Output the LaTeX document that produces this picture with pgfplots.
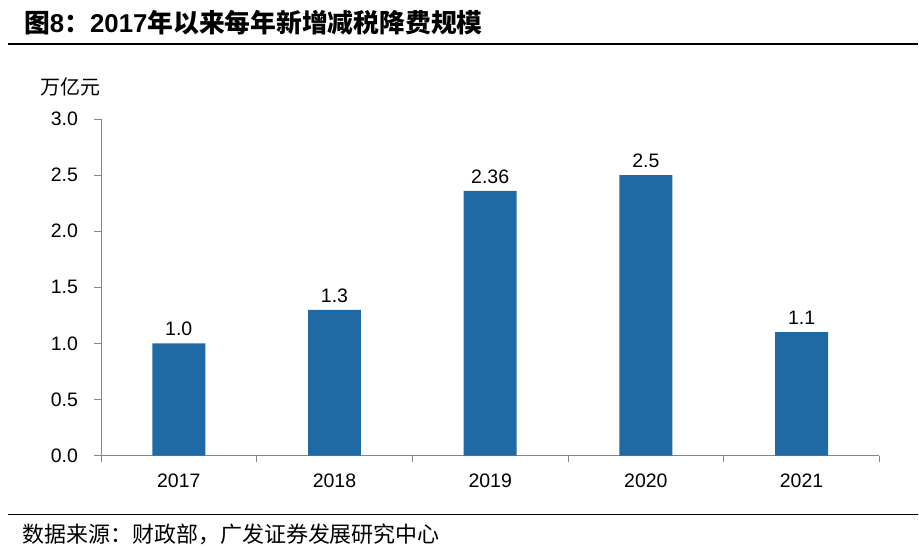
\documentclass[border=0pt]{standalone}
\usepackage{fontspec}
\setmainfont{Liberation Sans}
\newfontfamily\cjk{Noto Sans CJK SC}
\usepackage{pgfplots}
\pgfplotsset{compat=1.18}
\definecolor{barblue}{HTML}{1F6AA5}
\definecolor{axgray}{HTML}{868686}
\begin{document}
\begin{tikzpicture}[x=1pt,y=1pt]
\path[fill=white] (0,0) rectangle (919,550);
% title and rules
\node[anchor=west,inner sep=0pt,font=\fontsize{25.8}{29}\selectfont\bfseries] at (24,527)
  {{\cjk 图}8{\cjk ：}2017{\cjk 年以来每年新增减税降费规模}};
\draw[black,line width=1.2pt] (8,506) -- (919,506);
\draw[black,line width=1.2pt] (8,35) -- (919,35);
\node[anchor=west,inner sep=0pt,font=\cjk\fontsize{22}{26}\selectfont] at (22,15)
  {数据来源：财政部，广发证券发展研究中心};
\node[anchor=west,inner sep=0pt,font=\cjk\fontsize{20}{24}\selectfont] at (40,463) {万亿元};
\begin{axis}[%
at={(101pt,94pt)},
anchor=south west,
scale only axis,
width=779pt,
height=337pt,
xmin=-0.5,
xmax=4.5,
ymin=0,
ymax=3,
ytick={0,0.5,1,1.5,2,2.5,3},
yticklabel={\pgfmathprintnumber[fixed,fixed zerofill,precision=1]{\tick}},
xtick={-0.5,0.5,1.5,2.5,3.5,4.5},
x tick label as interval,
xticklabels={2017,2018,2019,2020,2021},
axis x line*=bottom,
axis y line*=left,
axis line style={axgray,line width=0.8pt},
tick style={axgray,line width=0.8pt},
tick align=outside,
major tick length=6.5pt,
ticklabel style={font=\fontsize{19.5}{23}\selectfont,black},
y tick label style={xshift=-13pt},
x tick label style={yshift=-8pt},
/pgf/number format/assume math mode=true,
clip=false,
]
\addplot[ybar,bar width=53pt,fill=barblue,draw=none,
  nodes near coords,point meta=explicit symbolic,
  nodes near coords style={font=\fontsize{19.5}{23}\selectfont,black,yshift=4pt}]
coordinates {
	(0,1.0) [1.0]
	(1,1.3) [1.3]
	(2,2.36) [2.36]
	(3,2.5) [2.5]
	(4,1.1) [1.1]
};
\end{axis}
\end{tikzpicture}
\end{document}
